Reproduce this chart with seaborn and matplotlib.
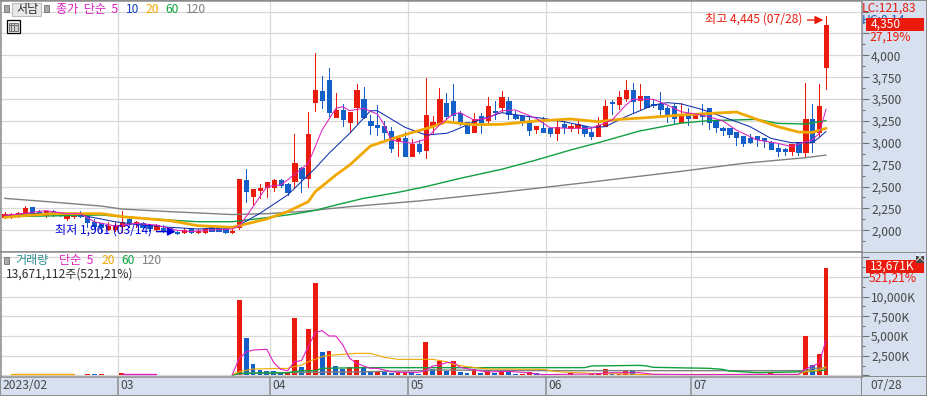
import matplotlib
matplotlib.use('Agg')
import matplotlib.pyplot as plt
from matplotlib.patches import Rectangle
from matplotlib.ticker import FixedLocator, FuncFormatter
import numpy as np
import pandas as pd
import seaborn as sns

# daily candles, won
opens = [2156, 2175, 2182, 2175, 2266, 2205, 2171, 2224, 2190, 2137, 2163, 2201, 2152, 2095, 2079, 2011, 2011, 2053, 2125, 2079,
         2079, 2060, 2018, 2026, 2026, 1980, 1977, 2018, 1977, 1977, 2034, 2034, 2034, 1984, 2041, 2575, 2392, 2464, 2495, 2495,
         2575, 2529, 2560, 2712, 2602, 3470, 3592, 3718, 3295, 3375, 3238, 3409, 3501, 3249, 3203, 3192, 3135, 3021, 3055, 2849,
         2986, 2918, 3192, 3226, 3455, 3478, 3340, 3238, 3123, 3306, 3260, 3363, 3409, 3478, 3318, 3306, 3249, 3158, 3169, 3169,
         3112, 3215, 3169, 3181, 3192, 3123, 3078, 3192, 3466, 3443, 3512, 3603, 3489, 3535, 3443, 3443, 3398, 3420, 3241, 3340,
         3283, 3325, 3398, 3249, 3169, 3169, 3123, 3077, 3055, 3077, 3055, 3009, 2940, 2929, 2906, 3009, 2895, 3272, 3123, 3866]
highs = [2213, 2201, 2205, 2281, 2266, 2232, 2224, 2236, 2205, 2194, 2213, 2224, 2152, 2125, 2087, 2098, 2098, 2224, 2156, 2106,
         2098, 2075, 2068, 2060, 2035, 1992, 2026, 2030, 2011, 2030, 2041, 2041, 2041, 2034, 2586, 2700, 2472, 2529, 2552, 2583,
         2590, 2544, 3101, 2727, 3348, 4023, 3763, 3855, 3569, 3443, 3352, 3672, 3638, 3318, 3432, 3249, 3181, 3055, 3123, 3043,
         3032, 3741, 3306, 3626, 3569, 3672, 3363, 3238, 3340, 3340, 3523, 3478, 3592, 3523, 3363, 3318, 3306, 3192, 3295, 3169,
         3260, 3249, 3215, 3249, 3192, 3169, 3295, 3489, 3489, 3592, 3718, 3683, 3672, 3535, 3489, 3580, 3420, 3443, 3451, 3401,
         3344, 3443, 3398, 3260, 3180, 3169, 3123, 3077, 3100, 3077, 3055, 3020, 2986, 2940, 2986, 3009, 3683, 3443, 3672, 4445]
lows = [2137, 2137, 2156, 2175, 2175, 2175, 2156, 2167, 2163, 2117, 2137, 2156, 2041, 2022, 1984, 2003, 1996, 1975, 2041, 2041,
        2018, 1990, 2003, 1980, 1975, 1961, 1969, 1969, 1969, 1969, 1992, 1992, 1969, 1973, 2020, 2320, 2297, 2373, 2384, 2449,
        2495, 2403, 2480, 2438, 2495, 3367, 3394, 3306, 3295, 3192, 3123, 3226, 3283, 3101, 3089, 3032, 2895, 2849, 2849, 2849,
        2883, 2826, 3112, 3226, 3272, 3261, 3203, 3112, 3123, 3112, 3226, 3272, 3352, 3272, 3272, 3203, 3089, 3112, 3123, 3078,
        3032, 3112, 3135, 3112, 3078, 3043, 3078, 3192, 3329, 3386, 3478, 3340, 3386, 3409, 3409, 3295, 3238, 3226, 3241, 3203,
        3283, 3215, 3161, 3123, 3089, 3066, 2975, 2963, 2997, 2963, 2952, 2929, 2853, 2860, 2860, 2860, 2837, 2895, 3077, 3615]
closes = [2190, 2182, 2194, 2255, 2197, 2197, 2217, 2190, 2182, 2182, 2201, 2167, 2098, 2053, 2034, 2049, 2060, 2098, 2076, 2091,
          2041, 2022, 2056, 1992, 1984, 1973, 1999, 1977, 1992, 2018, 1996, 1996, 1977, 1996, 2586, 2449, 2472, 2483, 2552, 2575,
          2514, 2438, 2769, 2598, 3101, 3603, 3489, 3352, 3375, 3272, 3352, 3603, 3295, 3203, 3181, 3123, 2941, 3055, 2849, 2986,
          2906, 3318, 3238, 3501, 3306, 3318, 3226, 3112, 3272, 3238, 3420, 3352, 3523, 3329, 3283, 3238, 3146, 3192, 3123, 3112,
          3181, 3181, 3192, 3215, 3112, 3078, 3203, 3420, 3455, 3523, 3603, 3478, 3535, 3409, 3432, 3386, 3329, 3283, 3329, 3287,
          3329, 3310, 3241, 3180, 3146, 3100, 3066, 2997, 3005, 3043, 3032, 2929, 2906, 2906, 2986, 2895, 3272, 3009, 3420, 4350]

# price moving averages, read at the bends of each line
ma5_days = [0, 3, 6, 9, 11, 13, 16, 19, 22, 25, 27, 30, 33, 34, 35, 38, 40, 41, 44, 46, 48, 49, 50, 52, 54, 55, 56, 59, 61, 63, 65, 66,
            68, 70, 72, 74, 77, 79, 82, 85, 88, 90, 91, 94, 96, 98, 101, 104, 106, 109, 112, 114, 116, 117, 118, 119]
ma5 = [2170, 2195, 2225, 2190, 2190, 2098, 2049, 2079, 2060, 2000, 1985, 2003, 2015, 2050, 2156, 2499, 2518, 2575, 2765, 3146, 3394, 3413, 3367, 3394, 3329, 3203, 3032, 2994, 3040, 3203, 3329, 3344,
       3260, 3280, 3367, 3375, 3279, 3173, 3165, 3165, 3260, 3432, 3497, 3497, 3432, 3355, 3318, 3253, 3146, 3032, 2994, 2956, 3013, 3032, 3108, 3386]
ma10_days = [0, 4, 8, 11, 16, 19, 24, 28, 33, 34, 37, 41, 43, 45, 47, 50, 52, 53, 54, 56, 58, 61, 64, 65, 68, 72, 76, 78, 81, 85, 87, 90, 94, 96, 98, 101, 104, 108, 111, 114, 117, 118, 119]
ma10 = [2165, 2190, 2200, 2175, 2098, 2068, 2034, 2015, 2034, 2060, 2194, 2403, 2556, 2708, 2880, 3108, 3280, 3367, 3367, 3272, 3177, 3089, 3108, 3135, 3241, 3344, 3299, 3279, 3241, 3177, 3184, 3299, 3432, 3459, 3445, 3382, 3298, 3184, 3051, 3001, 3001, 3060, 3130]
ma20_days = [0, 2, 7, 14, 17, 24, 28, 33, 38, 41, 44, 45, 48, 50, 53, 56, 59, 62, 64, 66, 68, 72, 77, 82, 86, 89, 93, 98, 106, 109, 112, 115, 117, 119]
ma20 = [2148, 2163, 2190, 2190, 2156, 2110, 2053, 2034, 2130, 2213, 2327, 2441, 2632, 2746, 2963, 3043, 3116, 3184, 3241, 3222, 3207, 3211, 3249, 3272, 3241, 3268, 3287, 3318, 3352, 3268, 3184, 3123, 3119, 3165]
ma60_days = [0, 14, 19, 24, 28, 33, 37, 42, 45, 48, 52, 57, 61, 66, 72, 77, 82, 86, 92, 98, 102, 109, 112, 116, 119]
ma60 = [2155, 2175, 2144, 2117, 2098, 2098, 2135, 2186, 2228, 2289, 2365, 2434, 2499, 2594, 2697, 2803, 2918, 3001, 3135, 3225, 3253, 3268, 3222, 3215, 3253]
ma120_days = [0, 5, 14, 17, 24, 33, 38, 43, 50, 60, 66, 72, 85, 98, 107, 116, 119]
ma120 = [2365, 2335, 2277, 2243, 2213, 2180, 2190, 2215, 2270, 2335, 2384, 2435, 2552, 2674, 2765, 2830, 2860]

# volume, thousand shares
volumes = [60, 40, 40, 40, 40, 40, 40, 40, 40, 40, 40, 40, 130, 130, 130, 40, 40, 300, 40, 40,
           40, 40, 40, 40, 40, 40, 40, 40, 40, 40, 40, 40, 40, 50, 9569, 4746, 1446, 685, 516, 516,
           389, 347, 7285, 1023, 5889, 11726, 2927, 3096, 1193, 854, 1023, 1954, 897, 473, 558, 558, 347, 473, 473, 473,
           220, 4238, 854, 1827, 600, 1827, 431, 304, 812, 304, 600, 304, 600, 516, 177, 177, 431, 304, 90, 70,
           135, 80, 262, 93, 93, 177, 177, 812, 220, 220, 516, 516, 220, 220, 220, 220, 220, 93, 93, 93,
           93, 93, 93, 93, 93, 93, 220, 220, 93, 93, 93, 346, 93, 93, 93, 93, 5000, 1320, 2716, 13671]
vol_up = [0, 0, 0, 0, 0, 0, 0, 0, 0, 0, 0, 0, 1, 0, 1, 0, 0, 1, 0, 0,
          0, 0, 0, 0, 0, 0, 0, 0, 0, 0, 0, 0, 0, 1, 1, 0, 0, 0, 0, 0,
          0, 1, 1, 0, 1, 1, 0, 1, 0, 0, 1, 1, 0, 0, 1, 0, 0, 1, 1, 0,
          0, 1, 0, 1, 0, 1, 0, 0, 1, 0, 1, 0, 1, 0, 0, 1, 1, 0, 0, 0,
          1, 0, 1, 1, 0, 1, 1, 1, 0, 1, 1, 0, 0, 0, 0, 1, 1, 0, 0, 0,
          1, 0, 1, 0, 0, 1, 1, 0, 1, 0, 0, 1, 0, 1, 0, 0, 1, 0, 1, 1]

# volume moving averages, read at the bends of each line
vol5_days = [33, 34, 35, 36, 38, 39, 40, 41, 42, 43, 44, 45, 46, 47, 48, 49, 50, 51, 52, 53, 54, 55, 56, 57, 60, 61, 62, 63, 64, 65, 66, 68, 70, 73, 75, 78, 85, 88, 90, 92, 94, 100, 110, 115, 116, 117, 118, 119]
vol5 = [100, 2165, 2969, 3223, 3308, 1615, 770, 600, 1742, 1870, 3646, 5423, 5676, 5000, 5000, 3858, 2165, 1531, 1193, 897, 897, 685, 473, 389, 389, 600, 1193, 1320, 1615, 1658, 1023, 685, 431, 516, 389, 100, 177, 346, 346, 346, 135, 100, 130, 130, 812, 1192, 1531, 4493]
vol5_early_days = [17, 22]
vol5_early = [130, 130]
vol20_days = [33, 34, 36, 41, 43, 44, 46, 47, 51, 53, 55, 57, 62, 64, 65, 67, 70, 78, 80, 83, 85, 90, 92, 115, 116, 118, 119]
vol20 = [100, 473, 812, 897, 1320, 1742, 2377, 2546, 2800, 2800, 2292, 2038, 2038, 1742, 1404, 1108, 812, 770, 474, 346, 262, 177, 120, 120, 473, 685, 1108]
vol20_early_days = [1, 10]
vol20_early = [130, 130]
vol60_days = [33, 34, 41, 43, 45, 46, 52, 84, 85, 92, 93, 94, 102, 104, 105, 109, 116, 119]
vol60 = [50, 262, 347, 600, 600, 897, 981, 981, 1192, 1277, 1192, 1023, 897, 770, 558, 346, 473, 685]
vol120_days = [33, 35, 40, 50, 60, 62, 79, 92, 116, 117, 119]
vol120 = [80, 262, 347, 431, 600, 685, 600, 600, 600, 897, 939]

month_starts = [16.5, 38.5, 58.5, 78.5, 99.5]
month_labels = ['03', '04', '05', '06', '07']

RED = '#EA1A0C'
BLUE = '#1560C8'
MAGENTA = '#E020C0'
NAVY = '#1030B0'
ORANGE = '#F0A800'
GREEN = '#10A040'
GRAY = '#808080'
GRID = '#D8D8D8'
EDGE = '#8C8C8C'
BAND = '#D6E0EE'
LABEL = '#484848'

W, H = 927, 396
sns.set_theme(style='white')
plt.rcParams['font.family'] = ['Noto Sans CJK KR', 'DejaVu Sans']
plt.rcParams['font.size'] = 8.7


def fx(px):
    return px / W


def fy(py):
    return 1 - py / H


def label(px, py, text, color=LABEL, ha='left', zorder=10):
    return fig.text(fx(px), fy(py), text, color=color, ha=ha, va='center', fontsize=8.7, zorder=zorder)


def box(px0, py0, px1, py1, face, edge='none', lw=0.0, zorder=8):
    fig.add_artist(Rectangle((fx(px0), fy(py1)), (px1 - px0) / W, (py1 - py0) / H, transform=fig.transFigure,
                             facecolor=face, edgecolor=edge, linewidth=lw, zorder=zorder))


def style_panel(ax, major, minor, formatter):
    ax.set_facecolor('white')
    ax.set_xlim(-0.507, 124.13)
    ax.yaxis.tick_right()
    ax.yaxis.set_major_locator(FixedLocator(major))
    ax.yaxis.set_minor_locator(FixedLocator(minor))
    ax.yaxis.set_major_formatter(FuncFormatter(formatter))
    ax.set_xticks(month_starts)
    ax.set_xticklabels([])
    ax.tick_params(axis='y', which='major', length=5, width=0.8, color='#707070', labelcolor=LABEL, labelsize=8.7, pad=2, right=True)
    ax.tick_params(axis='y', which='minor', length=2, width=0.8, color='#707070', right=True)
    ax.set_axisbelow(True)
    ax.grid(True, which='major', color=GRID, linewidth=0.9)
    for spine in ax.spines.values():
        spine.set_color(EDGE)
        spine.set_linewidth(1.1)
    ax.set_xlabel('')
    ax.set_ylabel('')


def draw_ma(ax, days, values, color, lw, zorder=5):
    sns.lineplot(x=days, y=values, color=color, linewidth=lw, ax=ax, estimator=None, errorbar=None, zorder=zorder)


fig = plt.figure(figsize=(W / 100, H / 100), dpi=100, facecolor=BAND)
ax_price = fig.add_axes([fx(1), fy(252), (861.5 - 1) / W, (252 - 1) / H])
ax_vol = fig.add_axes([fx(1), fy(376.5), (861.5 - 1) / W, (376.5 - 252) / H])

candles = pd.DataFrame({'open': opens, 'high': highs, 'low': lows, 'close': closes})
candles['day'] = np.arange(len(candles))
candles['color'] = np.where(candles['close'] >= candles['open'], RED, BLUE)

ax_price.vlines(candles['day'], candles['low'], candles['high'], colors=candles['color'], linewidth=0.72, zorder=3, antialiased=False)
ax_price.bar(candles['day'], (candles['close'] - candles['open']).abs(), bottom=candles[['open', 'close']].min(axis=1),
             width=0.62, color=candles['color'], edgecolor=candles['color'], linewidth=0.5, zorder=4, antialiased=False)
draw_ma(ax_price, ma120_days, ma120, GRAY, 1.0)
draw_ma(ax_price, ma60_days, ma60, GREEN, 1.0)
draw_ma(ax_price, ma10_days, ma10, NAVY, 0.75)
draw_ma(ax_price, ma20_days, ma20, ORANGE, 2.0)
draw_ma(ax_price, ma5_days, ma5, MAGENTA, 0.75)
ax_price.set_ylim(1752, 4620.6)
style_panel(ax_price, list(range(2000, 4001, 250)) + [4250, 4500], list(range(1875, 4500, 250)),
            lambda v, pos: f'{int(v):,}' if v <= 4000 else '')

ax_price.annotate('', xy=(118.6, 4403), xytext=(116.3, 4403),
                  arrowprops=dict(arrowstyle='-|>', color=RED, lw=1.0, mutation_scale=12, shrinkA=0, shrinkB=0), zorder=9)
ax_price.annotate('', xy=(24.8, 1985), xytext=(22.0, 1985),
                  arrowprops=dict(arrowstyle='-|>', color='#0000E0', lw=1.0, mutation_scale=12, shrinkA=0, shrinkB=0), zorder=9)

# every trading day is a category, so bars sit at positions 0..119 like the candles
vol_frame = pd.DataFrame({'day': np.arange(len(volumes)), 'volume': volumes,
                          'side': ['up' if flag else 'down' for flag in vol_up]})
sns.barplot(data=vol_frame, x='day', y='volume', hue='side', palette={'up': RED, 'down': BLUE},
            dodge=False, width=0.7, legend=False, saturation=1, errorbar=None, linewidth=0, ax=ax_vol, zorder=3)
for bar in ax_vol.patches:
    bar.set_antialiased(False)
draw_ma(ax_vol, vol120_days, vol120, GRAY, 1.0)
draw_ma(ax_vol, vol60_days, vol60, GREEN, 1.0)
draw_ma(ax_vol, vol20_days, vol20, ORANGE, 0.8)
draw_ma(ax_vol, vol20_early_days, vol20_early, ORANGE, 1.0)
draw_ma(ax_vol, vol5_days, vol5, MAGENTA, 0.8)
draw_ma(ax_vol, vol5_early_days, vol5_early, MAGENTA, 1.0)
ax_vol.set_ylim(-140, 15660)
style_panel(ax_vol, [0, 2500, 5000, 7500, 10000, 12500, 15000], list(range(1250, 15000, 2500)),
            lambda v, pos: f'{int(v):,}K' if 0 < v <= 10000 else '')

# date band under the volume panel
ax_vol.tick_params(axis='x', length=14.5, width=1.1, color=EDGE, bottom=True)
for pos, text in zip(month_starts, month_labels):
    ax_vol.annotate(text, xy=(pos, 0), xycoords=('data', 'axes fraction'), xytext=(1.3, -6.5), textcoords='offset points',
                    color=LABEL, fontsize=8.7, ha='left', va='center')
label(2, 385.5, '2023/02')
label(870, 385.5, '07/28')
box(861, 376.5, 862, 396, EDGE, zorder=6)
box(0, 376.5, 1.2, 396, EDGE, zorder=6)
box(0, 395, W, 396, EDGE, zorder=6)
box(926, 0, W, 396, EDGE, zorder=6)
box(861, 376, W, 377, EDGE, zorder=6)
box(861, 252, W, 253, EDGE, zorder=6)
box(0, 0, W, 1, EDGE, zorder=6)

# legends and tags
box(4, 5, 9, 12, '#A8A8A8', '#707070', 0.6)
box(11.5, 2.5, 40.5, 16, '#E8E8E8', '#BEBEBE', 0.8)
label(16, 9.5, '서남', '#303030')
box(44, 5, 49, 12, '#A8A8A8', '#707070', 0.6)
label(56, 9.5, '종가  단순  5', MAGENTA)
label(126, 9.5, '10', '#1040C0')
label(145, 9.5, '20', ORANGE)
label(165, 9.5, '60', GREEN)
label(186, 9.5, '120', GRAY)
box(6.5, 20.5, 19.5, 33, '#F4F4F4', '#000000', 0.9)
box(8.5, 23, 17.5, 30.5, '#D0D0D0', '#707070', 0.7, zorder=9)
box(11, 23, 11.7, 30.5, '#707070', zorder=9)
box(14.3, 23, 15, 30.5, '#707070', zorder=9)
box(8.5, 25.5, 17.5, 26.2, '#707070', zorder=9)

label(705, 19, '최고 4,445 (07/28)', RED)
label(55, 230, '최저 1,961 (03/14)', '#0000E0')

box(4, 257, 9, 264, '#A8A8A8', '#707070', 0.6)
label(15, 260.5, '거래량', '#309090')
label(59, 260.5, '단순  5', MAGENTA)
label(101, 260.5, '20', ORANGE)
label(121, 260.5, '60', GREEN)
label(142, 260.5, '120', GRAY)
label(6, 274, '13,671,112주(521,21%)', '#303030')

label(862, 8, 'LC:121,83', RED)
label(862, 20.5, 'HC:8,14', '#2060C0', zorder=7)
box(866, 18, 924, 31, RED, zorder=9)
label(871, 24.5, '4,350', 'white', zorder=11)
label(869, 37, '27,19%', RED)
box(866, 260, 924, 273, RED, zorder=9)
label(870, 266, '13,671K', 'white', zorder=11)
label(869, 278.5, '521,21%', RED)
box(916, 256, 923.5, 263, '#484848', zorder=9)
label(919.7, 259.3, '×', 'white', ha='center', zorder=11)

fig.savefig('out.png', dpi=100, facecolor=fig.get_facecolor())
